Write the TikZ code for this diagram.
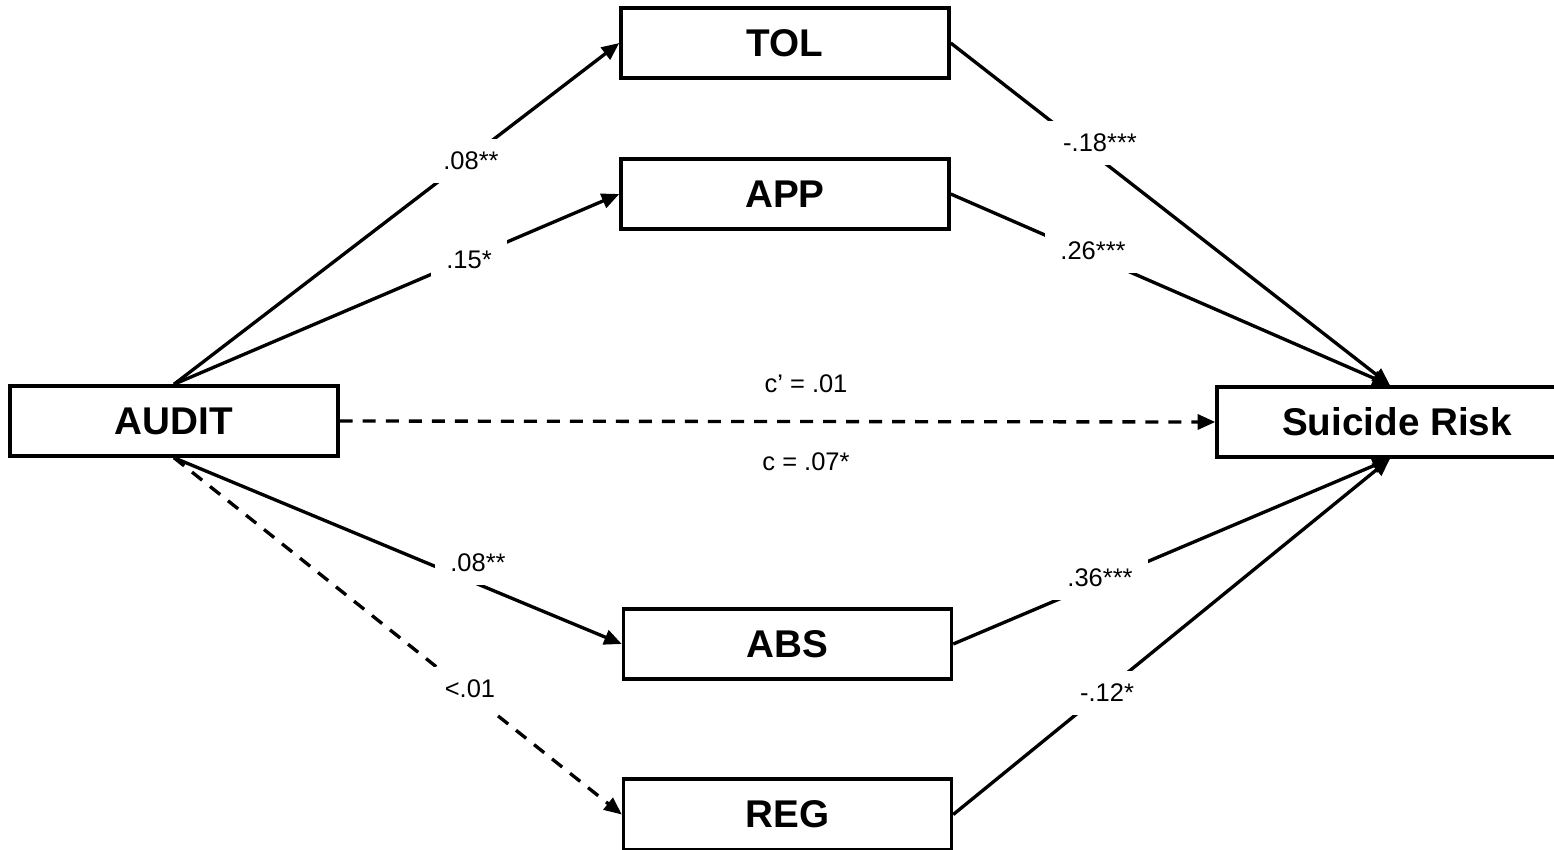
\documentclass[tikz,border=0pt]{standalone}
\usepackage{fontspec}
\setmainfont{Liberation Sans}
\usetikzlibrary{arrows.meta}
\begin{document}
\begin{tikzpicture}[x=0.02cm,y=-0.02cm,
  varbox/.style={draw, line width=2pt, minimum width=6.56cm, minimum height=1.4cm, inner sep=0pt, font=\fontsize{22}{26}\selectfont\bfseries},
  conn/.style={line width=1.9pt, -{Triangle[length=10pt,width=8.5pt]}},
  dsh/.style={dash pattern=on 7.4pt off 5.7pt},
  lbl/.style={fill=white, inner xsep=0.3cm, inner ysep=0.26cm, font=\fontsize{14.5}{16}\selectfont},
  plainlbl/.style={font=\fontsize{14.5}{16}\selectfont}]
\clip (0,0) rectangle (1554,849);
\fill[white] (0,0) rectangle (1554,849);
\node[varbox] (tol) at (785,43) {TOL};
\node[varbox] (app) at (785,194) {APP};
\node[varbox] (audit) at (174,421) {AUDIT};
\node[varbox, minimum width=6.92cm] (sr) at (1390,422) {};
\node[font=\fontsize{22}{26}\selectfont\bfseries] (srt) at (1397,422) {Suicide Risk};
\node[varbox] (abs) at (787.5,644) {ABS};
\node[varbox, minimum height=1.42cm] (reg) at (787.5,814.5) {REG};
\draw[conn] (audit.north) -- (tol.west);
\draw[conn] (audit.north) -- (app.west);
\draw[conn] (audit.south) -- (abs.west);
\draw[conn, dsh] (audit.south) -- (reg.west);
\draw[conn, dsh] (audit.east) -- (sr.west);
\draw[conn] (tol.east) -- (sr.north);
\draw[conn] (app.east) -- (sr.north);
\draw[conn] (abs.east) -- (sr.south);
\draw[conn] (reg.east) -- (sr.south);
\node[lbl] (l1) at (471,161) {.08**};
\node[lbl] (l2) at (469,260) {.15*};
\node[lbl] (l3) at (1100,143) {-.18***};
\node[lbl] (l4) at (1093,251) {.26***};
\node[lbl] (l5) at (478,563) {.08**};
\node[lbl] (l6) at (470,689) {<.01};
\node[lbl] (l7) at (1100,578) {.36***};
\node[lbl] (l8) at (1107,693) {-.12*};
\node[plainlbl] (cp) at (806,384) {c’ = .01};
\node[plainlbl] (c) at (806,462) {c = .07*};
\end{tikzpicture}
\end{document}
